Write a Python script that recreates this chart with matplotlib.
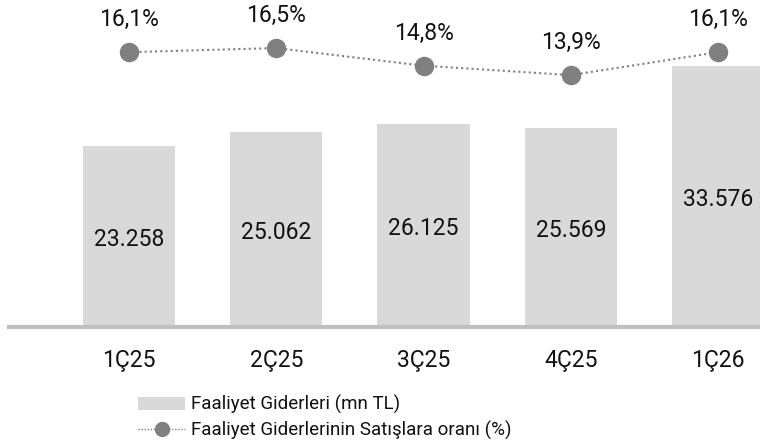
import matplotlib.pyplot as plt
from matplotlib.lines import Line2D
from matplotlib.patches import Patch

plt.rcParams['font.family'] = ['Roboto', 'DejaVu Sans']

quarters = ['1Ç25', '2Ç25', '3Ç25', '4Ç25', '1Ç26']
expenses = [23258, 25062, 26125, 25569, 33576]
ratio = [16.1, 16.5, 14.8, 13.9, 16.1]
expense_labels = ['23.258', '25.062', '26.125', '25.569', '33.576']
ratio_labels = ['16,1%', '16,5%', '14,8%', '13,9%', '16,1%']

bar_color = '#d9d9d9'
line_color = '#808080'
base_color = '#bfbfbf'
text_color = '#111111'


def draw_chart() -> None:
    fig = plt.figure(figsize=(7.6, 4.48), dpi=100)
    ax = fig.add_axes([0, 0.27, 1, 0.73])
    x = list(range(len(quarters)))

    ax.bar(x, expenses, width=0.625, color=bar_color, zorder=1)
    for xi, v, lab in zip(x, expenses, expense_labels):
        ax.annotate(lab, (xi, v / 2), xytext=(0, -7), textcoords='offset points',
                    ha='center', va='baseline', fontsize=16.5, color=text_color)

    ax.set_xlim(-0.876, 4.285)
    ax.set_ylim(0, 42030)
    ax.axhline(0, xmin=0.012, xmax=1, color=base_color, linewidth=3, clip_on=False, zorder=3)
    ax.set_yticks([])
    ax.set_xticks(x)
    ax.set_xticklabels(quarters, fontsize=16.5, color=text_color)
    ax.tick_params(axis='x', length=0, pad=16)
    for s in ['top', 'right', 'left', 'bottom']:
        ax.spines[s].set_visible(False)

    ax2 = ax.twinx()
    ax2.plot(x, ratio, color=line_color, linestyle=(0, (1, 1.5)), linewidth=1.5,
             marker='o', markersize=13, markerfacecolor=line_color,
             markeredgecolor=line_color)
    for xi, v, lab in zip(x, ratio, ratio_labels):
        ax2.annotate(lab, (xi, v), xytext=(0, 18.7), textcoords='offset points',
                     ha='center', va='baseline', fontsize=16.5, color=text_color)
    ax2.set_ylim(-10.33, 21.12)
    ax2.set_yticks([])
    for s in ['top', 'right', 'left', 'bottom']:
        ax2.spines[s].set_visible(False)

    handles = [
        Patch(facecolor=bar_color, edgecolor='none'),
        Line2D([0], [0], color=line_color, linestyle=(0, (1, 1.2)), linewidth=1.0,
               marker='o', markersize=10, markerfacecolor=line_color,
               markeredgecolor=line_color),
    ]
    labels = ['Faaliyet Giderleri (mn TL)', 'Faaliyet Giderlerinin Satışlara oranı (%)']
    fig.legend(handles, labels, loc='upper left', bbox_to_anchor=(0.182, 0.118),
               frameon=False, fontsize=13.5, handlelength=2.5, handleheight=0.75,
               handletextpad=0.3, labelspacing=0.35, borderpad=0, borderaxespad=0,
               labelcolor=text_color)

    fig.savefig('out.png', dpi=100)


def main() -> None:
    draw_chart()


if __name__ == "__main__":
    main()
